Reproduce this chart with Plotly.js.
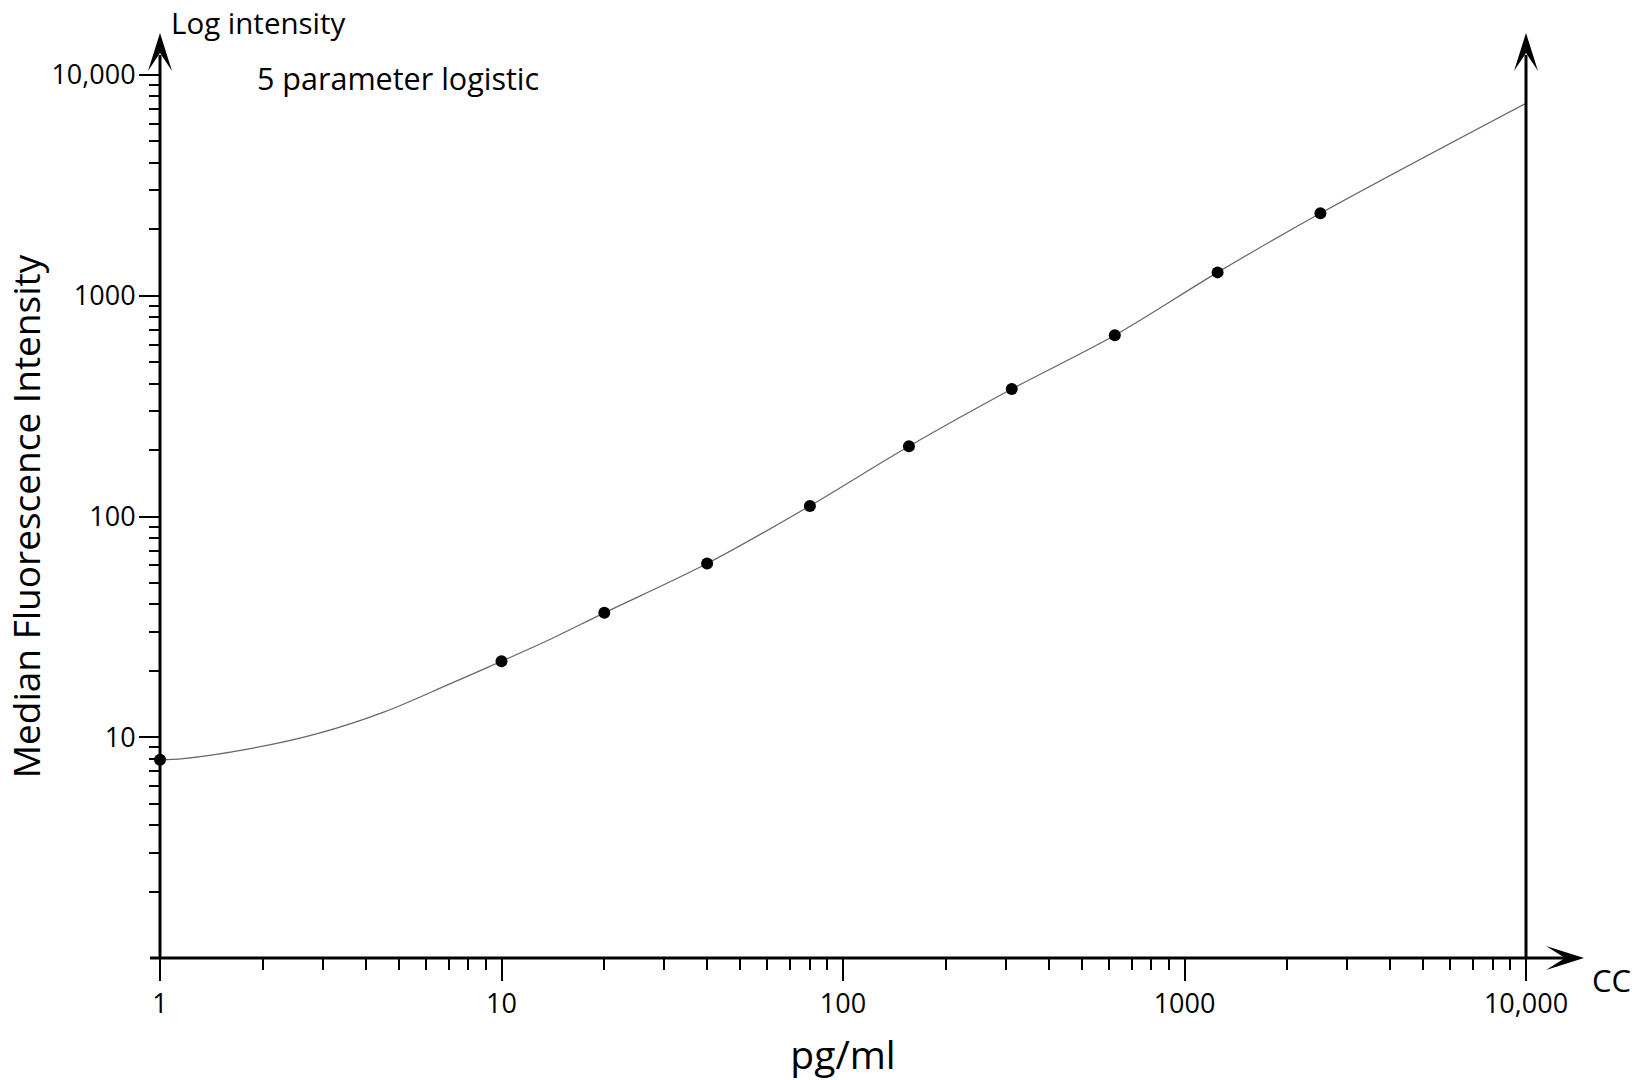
<!DOCTYPE html>
<html>
<head>
<meta charset="utf-8">
<script src="https://cdn.plot.ly/plotly-3.0.1.min.js"></script>
<style>
  html, body { margin: 0; padding: 0; background: #fff; }
  #chart { width: 1632px; height: 1080px; }
</style>
</head>
<body>
<div id="chart"></div>
<script>
// Standards (measured points)
const concentration = [1, 10, 20, 40, 80, 156, 312, 625, 1250, 2500];
const mfi = [7.9, 22.1, 36.6, 61.2, 111.7, 208, 378, 662, 1276, 2364];

// 5 parameter logistic fit curve
const fitConc = [1, 1.17, 1.84, 2.89, 4.52, 7.09, 10, 13.9, 20, 40, 80, 156, 312, 625, 1250, 2500, 10000];
const fitMfi = [7.9, 8.0, 8.88, 10.38, 13.0, 17.5, 22.1, 27.8, 36.6, 61.2, 111.7, 208, 378, 662, 1276, 2364, 7450];

// Tick labels
const xTickVals = [1, 10, 100, 1000, 10000];
const xTickText = ["1", "10", "100", "1000", "10,000"];
const yTickVals = [10, 100, 1000, 10000];
const yTickText = ["10", "100", "1000", "10,000"];

const minorVals = [];
for (let d = 1; d <= 1000; d *= 10) {
  for (let k = 2; k <= 9; k++) minorVals.push(k * d);
}

const FONT = '"Open Sans", "Noto Sans", sans-serif';
const M = { l: 160, r: 106, t: 75, b: 122 };
const W = 1632 - M.l - M.r;
const H = 1080 - M.t - M.b;
// pixel (page) position -> paper coordinate
const px = (x) => (x - M.l) / W;
const py = (y) => (1080 - M.b - y) / H;

function upArrow(xPaper) {
  const hw = 12 / W;
  return {
    type: 'path', xref: 'paper', yref: 'paper',
    path: `M${xPaper},${py(33)} L${xPaper + hw},${py(71)} L${xPaper},${py(53)} L${xPaper - hw},${py(71)} Z`,
    fillcolor: '#000', line: { color: '#000', width: 0 }
  };
}

const shapes = [
  // y axis line with arrow
  { type: 'line', xref: 'paper', yref: 'paper', x0: 0, x1: 0, y0: 0, y1: py(55), line: { color: '#000', width: 3 } },
  upArrow(0),
  // right vertical line with arrow
  { type: 'line', xref: 'paper', yref: 'paper', x0: 1, x1: 1, y0: 0, y1: py(55), line: { color: '#000', width: 3 } },
  upArrow(1),
  // x axis line with arrow
  { type: 'line', xref: 'paper', yref: 'paper', x0: px(150), x1: px(1565), y0: 0, y1: 0, line: { color: '#000', width: 3 } },
  {
    type: 'path', xref: 'paper', yref: 'paper',
    path: `M${px(1584)},0 L${px(1546)},${12 / H} L${px(1565)},0 L${px(1546)},${-12 / H} Z`,
    fillcolor: '#000', line: { color: '#000', width: 0 }
  }
];

const traces = [
  {
    x: fitConc, y: fitMfi, type: 'scatter', mode: 'lines',
    line: { color: '#666', width: 1.2, shape: 'spline', smoothing: 1 },
    hoverinfo: 'skip', cliponaxis: false
  },
  {
    x: concentration, y: mfi, type: 'scatter', mode: 'markers',
    marker: { color: '#000', size: 12 }, cliponaxis: false
  }
];

const axisCommon = {
  type: 'log', range: [0, 4], showgrid: false, zeroline: false, showline: false,
  ticks: 'outside', tickwidth: 2, tickcolor: '#000',
  tickfont: { family: FONT, size: 27, color: '#000' }
};

const layout = {
  width: 1632, height: 1080,
  margin: M,
  paper_bgcolor: '#fff', plot_bgcolor: '#fff',
  showlegend: false,
  font: { family: FONT, color: '#000' },
  xaxis: Object.assign({}, axisCommon, {
    tickmode: 'array', tickvals: xTickVals, ticktext: xTickText, ticklen: 22,
    minor: { tickmode: 'array', tickvals: minorVals, ticks: 'outside', ticklen: 11, tickwidth: 2, tickcolor: '#000', showgrid: false },
    title: { text: 'pg/ml', font: { family: FONT, size: 39, color: '#000' }, standoff: 26 }
  }),
  yaxis: Object.assign({}, axisCommon, {
    tickmode: 'array', tickvals: yTickVals, ticktext: yTickText, ticklen: 20,
    ticklabelstandoff: -2,
    minor: { tickmode: 'array', tickvals: minorVals, ticks: 'outside', ticklen: 10, tickwidth: 2, tickcolor: '#000', showgrid: false },
    title: { text: 'Median Fluorescence Intensity', font: { family: FONT, size: 37, color: '#000' }, standoff: 10 }
  }),
  shapes: shapes,
  annotations: [
    { text: 'Log intensity', xref: 'paper', yref: 'paper', x: px(170), y: py(1), xanchor: 'left', yanchor: 'top', borderpad: 0, showarrow: false, font: { family: FONT, size: 29.5, color: '#000' } },
    { text: '5 parameter logistic', xref: 'paper', yref: 'paper', x: px(255), y: py(78), xanchor: 'left', yanchor: 'middle', showarrow: false, font: { family: FONT, size: 30.5, color: '#000' } },
    { text: 'CC', xref: 'paper', yref: 'paper', x: px(1590), y: py(980), xanchor: 'left', yanchor: 'middle', showarrow: false, font: { family: FONT, size: 31, color: '#000' } }
  ]
};

Plotly.newPlot('chart', traces, layout, { displayModeBar: false, staticPlot: true });
</script>
</body>
</html>
